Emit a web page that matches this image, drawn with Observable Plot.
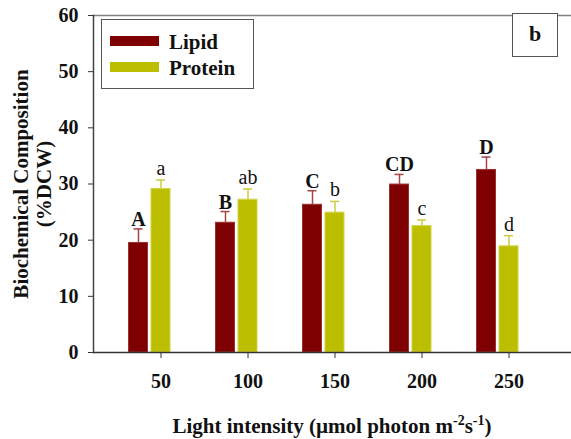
<!DOCTYPE html>
<html><head><meta charset="utf-8">
<script src="https://cdn.jsdelivr.net/npm/d3@7"></script>
<script src="https://cdn.jsdelivr.net/npm/@observablehq/plot@0.6"></script>
<style>
body{margin:0;background:#fff;overflow:hidden}
#wrap{position:relative;width:571px;height:439px;color:#111}
#wrap, #wrap *, #wrap svg text{font-family:"Liberation Serif","Times New Roman",serif !important}
.box{position:absolute;box-sizing:border-box;border:1.5px solid #555;background:#fff}
.sw{position:absolute;height:10px;width:49px}
.lt{position:absolute;font-weight:bold;font-size:21px;line-height:1}
.xt{position:absolute;left:0;width:664px;text-align:center;font-weight:bold;font-size:21px;top:414px;white-space:nowrap}
.xt sup{font-size:14px;vertical-align:0;position:relative;top:-8px}
</style></head><body><div id="wrap"></div>
<script>
const categories = ["50","100","150","200","250"];
const lipid = [19.5, 23.1, 26.3, 29.9, 32.5];
const lipidErr = [2.5, 2.0, 2.5, 1.8, 2.3];
const protein = [29.1, 27.2, 24.9, 22.5, 18.9];
const proteinErr = [1.6, 1.9, 2.0, 1.1, 1.9];
const lipidLetters = ["A","B","C","CD","D"];
const proteinLetters = ["a","ab","b","c","d"];
const yTicks = [0,10,20,30,40,50,60];
const seriesNames = ["Lipid","Protein"];
const seriesColors = ["#7f0000","#bcbf00"];
const errColors = ["#a84444","#cccc44"];
const yTitle = "Biochemical Composition\n(%DCW)";
const panelLabel = "b";

const lip = categories.map((c,i)=>({cat:c, value:lipid[i], top:lipid[i]+lipidErr[i], letter:lipidLetters[i]}));
const pro = categories.map((c,i)=>({cat:c, value:protein[i], top:protein[i]+proteinErr[i], letter:proteinLetters[i]}));
const off = -22.5;
const serif = '"Liberation Serif","Times New Roman",serif';

const chart = Plot.plot({
  width:571, height:439, marginLeft:93, marginRight:0, marginTop:15, marginBottom:87,
  style:{fontFamily:serif, fontSize:"20px", color:"#111", background:"#fff"},
  x:{type:"band", domain:categories, range:[93,575.6], paddingInner:0.783, paddingOuter:0.649, label:null},
  y:{domain:[0,60], label:null},
  marks:[
    Plot.ruleY([60], {stroke:"#808080", strokeWidth:1.5}),
    Plot.barY(lip, {x:"cat", y:"value", fill:seriesColors[0], stroke:"#9a3030", strokeWidth:1, dx:off}),
    Plot.barY(pro, {x:"cat", y:"value", fill:seriesColors[1], stroke:"#d2d24a", strokeWidth:1}),
    Plot.ruleX(lip, {x:"cat", y1:"value", y2:"top", stroke:errColors[0], strokeWidth:1.5, dx:off}),
    Plot.ruleX(pro, {x:"cat", y1:"value", y2:"top", stroke:errColors[1], strokeWidth:1.5}),
    Plot.tickY(lip, {x:"cat", y:"top", stroke:errColors[0], strokeWidth:1.5, insetLeft:5, insetRight:5, dx:off}),
    Plot.tickY(pro, {x:"cat", y:"top", stroke:errColors[1], strokeWidth:1.5, insetLeft:5, insetRight:5}),
    Plot.text(lip, {x:"cat", y:"top", text:"letter", dx:off, dy:-3, lineAnchor:"bottom", fontWeight:"bold", fontSize:20, fill:"#111", fontFamily:serif}),
    Plot.text(pro, {x:"cat", y:"top", text:"letter", dy:-5, lineAnchor:"bottom", fontSize:20, fill:"#111", fontFamily:serif}),
    Plot.axisY({ticks:yTicks, tickSize:5, tickPadding:10, fontWeight:"bold", fontSize:20, label:null, stroke:"#333", fontFamily:serif}),
    Plot.axisX({tickSize:6, tickPadding:15, fontWeight:"bold", fontSize:20, label:null, stroke:"#333", fontFamily:serif}),
    Plot.ruleY([0], {stroke:"#333", strokeWidth:1.5}),
    Plot.frame({anchor:"left", stroke:"#444", strokeWidth:1.5}),
    Plot.text([yTitle], {frameAnchor:"left", rotate:-90, dx:-61.5, textAnchor:"middle", lineAnchor:"middle", fontSize:21, fontWeight:"bold", lineHeight:1.1, fill:"#111", fontFamily:serif})
  ]
});
const wrap = document.getElementById("wrap");
wrap.appendChild(chart);

// legend
const lg = d3.select(wrap).append("div").attr("class","box")
  .style("left","101px").style("top","19px").style("width","153px").style("height","70px");
seriesNames.forEach((n,i)=>{
  lg.append("div").attr("class","sw").style("left","8px").style("top",(16+i*26)+"px").style("background",seriesColors[i]);
  lg.append("div").attr("class","lt").style("left","67px").style("top",(12+i*26)+"px").text(n);
});
// panel label
d3.select(wrap).append("div").attr("class","box")
  .style("left","512px").style("top","13px").style("width","46px").style("height","44px")
  .style("font-weight","bold").style("font-size","22px").style("text-align","center").style("line-height","40px")
  .text(panelLabel);
// x title
d3.select(wrap).append("div").attr("class","xt")
  .html("Light intensity (µmol photon m<sup>-2</sup>s<sup>-1</sup>)");
</script>
</body></html>
